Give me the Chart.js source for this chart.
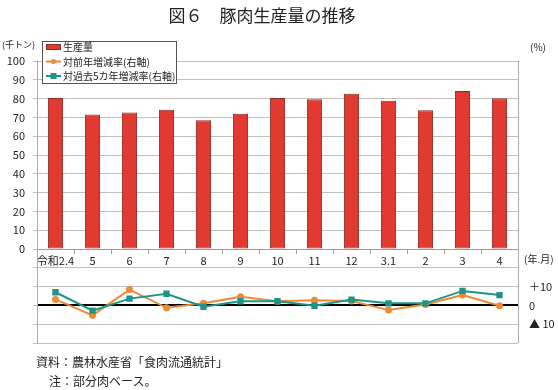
<!DOCTYPE html>
<html>
<head>
<meta charset="utf-8">
<script src="https://cdn.jsdelivr.net/npm/chart.js@4"></script>
<style>
  body { margin: 0; background: #fff; font-family: "Noto Sans CJK JP", sans-serif; }
  #wrap { position: relative; width: 558px; height: 390px; }
  canvas { position: absolute; left: 0; top: 0; }
  .t { position: absolute; white-space: nowrap; color: #222; line-height: 1; }
</style>
</head>
<body>
<div id="wrap">
  <canvas id="chart" width="558" height="390"></canvas>
  <div class="t" style="left:0;width:524px;text-align:center;top:6px;font-size:17px;">図６　豚肉生産量の推移</div>
  <div class="t" style="left:2px;top:40px;font-size:9px;">(千トン)</div>
  <div class="t" style="left:530px;top:42px;font-size:10px;">(%)</div>
  <div class="t" style="left:524px;top:254px;font-size:10px;">(年.月)</div>
  <div class="t" style="left:36px;top:356px;font-size:12px;">資料：農林水産省「食肉流通統計」</div>
  <div class="t" style="left:49px;top:375px;font-size:12px;">注：部分肉ベース。</div>
</div>
<script>
const categories = ['令和2.4', '5', '6', '7', '8', '9', '10', '11', '12', '3.1', '2', '3', '4'];
const production = [80.3, 71.5, 72.6, 74.1, 68.5, 72.0, 80.3, 79.6, 82.6, 78.9, 73.8, 84.0, 80.2];
const yoyChange = [3.2, -5.3, 8.4, -1.3, 1.1, 4.6, 2.2, 2.8, 2.3, -2.5, 0.5, 5.5, -0.2];
const fiveYearChange = [7.0, -2.8, 3.6, 6.2, -0.7, 2.2, 2.2, -0.2, 3.1, 1.1, 1.1, 7.7, 5.5];

const leftTicks = [0, 10, 20, 30, 40, 50, 60, 70, 80, 90, 100];
const rightTickLabels = { 10: '＋10', 0: '0', '-10': '▲ 10' };

const RED = '#e23a30';
const ORANGE = '#ee8a35';
const TEAL = '#1e9488';

// legend box drawn inside the plot, like the original
const boxLegend = {
    id: 'boxLegend',
    afterDraw(chart) {
        const c = chart.ctx;
        const x = 42, y = 41, w = 134, h = 42;
        c.save();
        c.fillStyle = '#fff';
        c.fillRect(x, y, w, h);
        c.strokeStyle = '#555';
        c.lineWidth = 1;
        c.strokeRect(x + 0.5, y + 0.5, w, h);
        c.font = '10px "Noto Sans CJK JP"';
        c.textBaseline = 'middle';
        const ds = chart.data.datasets;
        const rows = [ds[2], ds[0], ds[1]];
        rows.forEach((d, i) => {
            const cy = y + 6 + i * 14.5;
            if (d.type === 'line') {
                c.strokeStyle = d.borderColor;
                c.lineWidth = 2;
                c.beginPath();
                c.moveTo(46, cy);
                c.lineTo(61, cy);
                c.stroke();
                c.fillStyle = d.borderColor;
                if (d.pointStyle === 'rect') {
                    c.fillRect(50.5, cy - 3, 6, 6);
                } else {
                    c.beginPath();
                    c.arc(53.5, cy, 2.5, 0, Math.PI * 2);
                    c.fill();
                }
            } else {
                c.fillStyle = d.backgroundColor;
                c.fillRect(46, cy - 3, 15, 6);
                c.strokeStyle = d.borderColor;
                c.lineWidth = 1;
                c.strokeRect(46.5, cy - 2.5, 14, 5);
            }
            c.fillStyle = '#222';
            c.fillText(d.label, 63, cy + 0.5);
        });
        c.restore();
    }
};

const ctx = document.getElementById('chart').getContext('2d');
new Chart(ctx, {
    type: 'bar',
    data: {
        labels: categories,
        datasets: [
            {
                type: 'line',
                label: '対前年増減率(右軸)',
                data: yoyChange,
                yAxisID: 'y1',
                borderColor: ORANGE,
                backgroundColor: ORANGE,
                borderWidth: 2,
                pointStyle: 'circle',
                pointRadius: 3.5,
                pointBorderWidth: 0,
                tension: 0,
                order: 1
            },
            {
                type: 'line',
                label: '対過去5カ年増減率(右軸)',
                data: fiveYearChange,
                yAxisID: 'y1',
                borderColor: TEAL,
                backgroundColor: TEAL,
                borderWidth: 2,
                pointStyle: 'rect',
                pointRadius: 4.5,
                pointBorderWidth: 0,
                tension: 0,
                order: 0
            },
            {
                label: '生産量',
                data: production,
                yAxisID: 'y',
                backgroundColor: RED,
                borderColor: '#8a2b22',
                borderWidth: 1,
                borderSkipped: false,
                categoryPercentage: 1,
                barPercentage: 0.41,
                order: 2
            }
        ]
    },
    options: {
        responsive: false,
        animation: false,
        layout: { padding: { top: 61, bottom: 47, left: 0, right: 0 } },
        plugins: {
            legend: { display: false },
            tooltip: { enabled: false }
        },
        scales: {
            x: {
                position: { y: 0 },
                grid: { drawOnChartArea: false, tickLength: 4, color: '#a39893' },
                border: { display: true, color: '#a39893' },
                ticks: {
                    color: '#222',
                    font: { size: 11, family: '"Noto Sans CJK JP"' },
                    padding: 1,
                    maxRotation: 0,
                    autoSkip: false
                }
            },
            y: {
                position: 'left',
                min: -50,
                max: 100,
                afterFit: s => { s.width = 37; },
                grid: { color: '#c6bdb9', tickLength: 4 },
                border: { color: '#b3a9a4' },
                ticks: {
                    stepSize: 10,
                    padding: 8,
                    color: '#222',
                    font: { size: 11, family: '"Noto Sans CJK JP"' },
                    callback: v => leftTicks.includes(v) ? v : ''
                }
            },
            y1: {
                position: 'right',
                min: -20,
                max: 130,
                afterFit: s => { s.width = 40; },
                grid: {
                    drawTicks: false,
                    color: c => c.tick.value === 0 ? '#000' : 'rgba(0,0,0,0)',
                    lineWidth: c => c.tick.value === 0 ? 2 : 0
                },
                border: { color: '#b3a9a4' },
                ticks: {
                    stepSize: 10,
                    padding: 11,
                    color: '#222',
                    font: { size: 11, family: '"Noto Sans CJK JP"' },
                    callback: v => rightTickLabels[v] !== undefined ? rightTickLabels[v] : ''
                }
            }
        }
    },
    plugins: [boxLegend]
});
</script>
</body>
</html>
